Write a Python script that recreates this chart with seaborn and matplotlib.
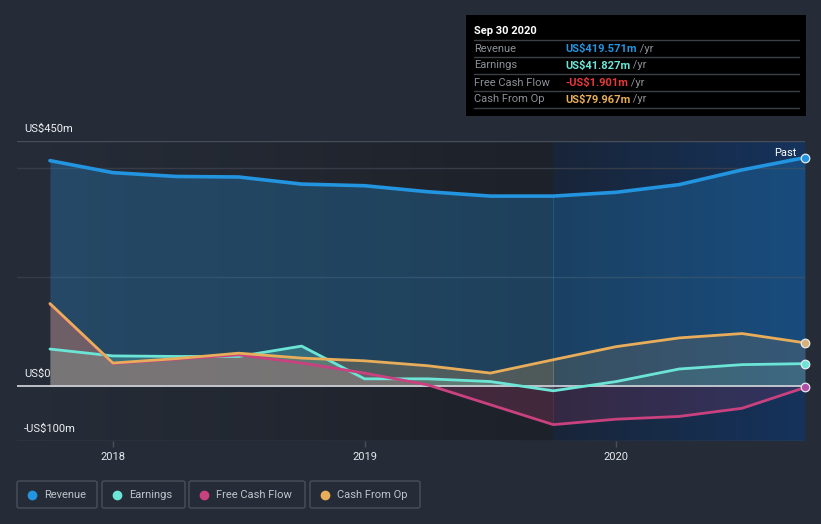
import numpy as np
import pandas as pd
import matplotlib
matplotlib.use("Agg")
import matplotlib.pyplot as plt
import seaborn as sns
from matplotlib.patches import Rectangle, FancyBboxPatch
from matplotlib.lines import Line2D
from matplotlib.text import Annotation
from matplotlib.colors import LinearSegmentedColormap

# ---------------- data (US$ m, trailing twelve months) ----------------
quarters = [2017.75, 2018.0, 2018.25, 2018.5, 2018.75, 2019.0, 2019.25,
            2019.5, 2019.75, 2020.0, 2020.25, 2020.5, 2020.75]
revenue = [414, 392, 385, 384, 371, 368, 357, 349, 349, 356, 370, 397, 419.571]
earnings = [68.6, 56, 55, 55, 74, 14, 14, 9, -8, 9, 32, 40, 41.827]
free_cash_flow = [151, 42, 50, 58, 43, 24.5, 3, -33.5, -70, -60, -55, -40, -1.901]
cash_from_op = [152, 43, 51, 61, 52, 47, 38, 24.5, 49, 73, 89, 97, 79.967]

series_names = ["Revenue", "Earnings", "Free Cash Flow", "Cash From Op"]
series_values = [revenue, earnings, free_cash_flow, cash_from_op]
colors = ["#2394df", "#6ce5d6", "#c9417f", "#e8ad5a"]
end_colors = ["#2394df", "#6ce5d6", "#b04ea8", "#d6b27a"]
value_colors = ["#2394df", "#6ce5d6", "#e83838", "#e8ad5a"]
tooltip_values = ["US$419.571m", "US$41.827m", "-US$1.901m", "US$79.967m"]
x_ticks = [2018, 2019, 2020]
x_tick_labels = ["2018", "2019", "2020"]
y_labels = [(450, "US$450m"), (0, "US$0"), (-100, "-US$100m")]
highlight_start = 2019.75

W, H = 821, 524
BG = "#252b37"
FONT = ["Roboto", "DejaVu Sans"]

sns.set_theme(style="dark")
plt.rcParams["font.family"] = FONT

fig = plt.figure(figsize=(W / 100, H / 100), dpi=100, facecolor=BG)

def fx(x):
    return x / W

def fy(y):
    return 1 - y / H

ax_left, ax_right, ax_top, ax_bot = 17, 805, 141, 441
ax = fig.add_axes([fx(ax_left), fy(ax_bot), (ax_right - ax_left) / W, (ax_bot - ax_top) / H])
ax.set_facecolor(BG)
xmin = 2018 - (113 - 17) / 252.0
xmax = 2020.75
ymin, ymax = -100, 450
for s in ax.spines.values():
    s.set_visible(False)

# background gradients
past_cmap = LinearSegmentedColormap.from_list("p", ["#262c37", "#1d2129"])
grad = np.linspace(0, 1, 256).reshape(1, -1)
ax.imshow(grad, extent=[quarters[0], highlight_start, ymin, ymax], aspect="auto",
          cmap=past_cmap, zorder=0, interpolation="bicubic")
hl_cmap = LinearSegmentedColormap.from_list("h", ["#192538", "#15335c"])
ax.imshow(grad, extent=[highlight_start, xmax, ymin, ymax], aspect="auto", cmap=hl_cmap,
          zorder=0, interpolation="bicubic")
ax.set_xlim(xmin, xmax)
ax.set_ylim(ymin, ymax)

# grid lines
for gy, c in [(450, "#474d59"), (400, "#363c48"), (200, "#363c48"), (-100, "#4a505c")]:
    ax.axhline(gy, color=c, lw=1, zorder=1)

# fills: stronger in the past part, lighter in the highlighted year
past_clip = Rectangle((xmin, ymin), highlight_start - xmin, ymax - ymin, transform=ax.transData)
hl_clip = Rectangle((highlight_start, ymin), xmax - highlight_start, ymax - ymin,
                    transform=ax.transData)
past_alphas = [0.28, 0.25, 0.22, 0.24]
hl_alphas = [0.26, 0.12, 0.16, 0.14]
for vals, col, a1, a2 in zip(series_values, colors, past_alphas, hl_alphas):
    p1 = ax.fill_between(quarters, vals, 0, color=col, alpha=a1, lw=0, zorder=2)
    p1.set_clip_path(past_clip)
    p2 = ax.fill_between(quarters, vals, 0, color=col, alpha=a2, lw=0, zorder=2)
    p2.set_clip_path(hl_clip)

# lines via seaborn
df = pd.DataFrame({
    "date": quarters * 4,
    "value": revenue + earnings + free_cash_flow + cash_from_op,
    "series": sum([[n] * len(quarters) for n in series_names], []),
})
sns.lineplot(data=df, x="date", y="value", hue="series", hue_order=series_names,
             palette=dict(zip(series_names, colors)), ax=ax, legend=False, zorder=4,
             linewidth=2)
for line in ax.get_lines():
    line.set_solid_joinstyle("round")
    line.set_solid_capstyle("round")
    if line.get_color() == "#2394df":
        line.set_linewidth(2.6)

ax.axhline(0, color="#c9ccd3", lw=1.3, zorder=3)

# end dots
for vals, col in zip(series_values, end_colors):
    ax.scatter([quarters[-1]], [vals[-1]], s=38, color=col, edgecolor="#e6e9ee",
               linewidth=0.9, zorder=6, clip_on=False)

ax.annotate("Past", xy=(quarters[-1], revenue[-1]), xytext=(-6, 3), textcoords="offset points",
            ha="right", va="center", color="#ffffff", fontsize=8, zorder=7)

# ticks
ax.set_xticks(x_ticks)
ax.set_xticklabels(x_tick_labels, color="#e6e8ec", fontsize=8)
ax.set_yticks([])
ax.tick_params(axis="x", length=4, color="#4a505c", width=1, pad=4, bottom=True)
ax.set_xlabel("")
ax.set_ylabel("")

for v, t in y_labels:
    ax.annotate(t, xy=(0, v), xycoords=("figure fraction", "data"),
                xytext=(24 * 0.72, 9), textcoords="offset points",
                ha="left", va="center", color="#eef0f3", fontsize=8, zorder=7,
                annotation_clip=False)

# tooltip
fig.patches.append(Rectangle((fx(466), fy(116)), (806 - 466) / W, (116 - 15) / H,
                             transform=fig.transFigure, facecolor="#000000",
                             edgecolor="none", zorder=10))
fig.text(fx(474), fy(31), "Sep 30 2020", color="#ffffff", fontsize=8,
         fontweight="bold", va="center", ha="left", zorder=11)
for ly in [40, 57, 74, 91, 108]:
    fig.add_artist(Line2D([fx(474), fx(799)], [fy(ly), fy(ly)], color="#3c3f44",
                          lw=1, zorder=11))
for i, (name, val, vc) in enumerate(zip(series_names, tooltip_values, value_colors)):
    yy = fy(48.5 + 17 * i)
    fig.text(fx(474), yy, name, color="#8d9097", fontsize=8, va="center", ha="left", zorder=11)
    t = fig.text(fx(565), yy, val, color=vc, fontsize=8, fontweight="semibold",
                 va="center", ha="left", zorder=11)
    ann = Annotation(" /yr", xy=(1, 0.5), xycoords=t, va="center", ha="left",
                     color="#8d9097", fontsize=8, annotation_clip=False)
    ann.set_zorder(12)
    fig.add_artist(ann)

# legend boxes
boxes = [(17, 97), (102, 185), (189, 305), (310, 420)]
for (x0, x1), name, col in zip(boxes, series_names, colors):
    fig.patches.append(FancyBboxPatch((fx(x0), fy(508)), (x1 - x0) / W, (508 - 481) / H,
                                      boxstyle="round,pad=0,rounding_size=0.003",
                                      transform=fig.transFigure, facecolor="none",
                                      edgecolor="#4a505b", lw=1, zorder=10))
    fig.add_artist(Line2D([fx(x0 + 15)], [fy(494.5)], marker="o", markersize=6,
                          color=col, lw=0, zorder=11))
    fig.text(fx(x0 + 27), fy(494.5), name, color="#c0c4cb", fontsize=8,
             va="center", ha="left", zorder=11)

fig.savefig("out.png", dpi=100, facecolor=BG)
